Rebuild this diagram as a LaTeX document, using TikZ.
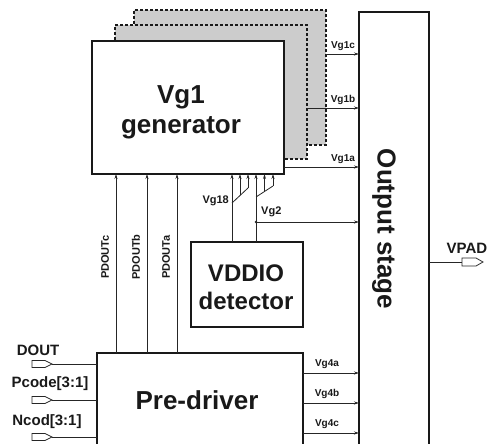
\documentclass[tikz,border=0pt]{standalone}
\usepackage{fontspec}
\setmainfont{Liberation Sans}
\usetikzlibrary{arrows.meta,calc}
\begin{document}
\begin{tikzpicture}[x=1pt,y=-1pt,
  blk/.style={draw=black!90, line width=1.8pt, fill=white, inner sep=0pt, outer sep=0pt, anchor=north west},
  layer/.style={draw=black!90, line width=1.5pt, dash pattern=on 3pt off 2pt, fill=gray!40, inner sep=0pt, outer sep=0pt, anchor=north west},
  sig/.style={draw=black!85, line width=0.8pt, -{Stealth[length=5pt,width=3pt]}},
  wire/.style={draw=black!85, line width=0.8pt},
  padstyle/.style={draw=black!85, line width=0.8pt, fill=white},
  bigtxt/.style={text=black!90, font=\bfseries\fontsize{26}{30}\selectfont, align=center, inner sep=0pt},
  dettxt/.style={text=black!90, font=\bfseries\fontsize{24}{28}\selectfont, align=center, inner sep=0pt},
  midtxt/.style={text=black!90, font=\bfseries\fontsize{15}{17}\selectfont, inner sep=0pt},
  smltxt/.style={text=black!90, font=\bfseries\fontsize{10}{12}\selectfont, inner sep=0pt},
  labtxt/.style={text=black!90, font=\bfseries\fontsize{11}{13}\selectfont, inner sep=0pt},
]
\useasboundingbox (0,0) rectangle (491,444);

% stacked Vg1 generator layers
\node[layer, minimum width=192pt, minimum height=135pt] (layc) at (134,10) {};
\node[layer, minimum width=192pt, minimum height=134pt] (layb) at (115,25) {};
\node[blk, minimum width=192pt, minimum height=133pt] (vg1) at (92,41) {};
\node[bigtxt] (vg1t) at (181,112) {Vg1\\generator};

% output stage
\node[blk, minimum width=70pt, minimum height=460pt] (out) at (359,12) {};
\node[bigtxt, rotate=-90, font=\bfseries\fontsize{26}{28}\selectfont] (outt) at (384,229) {Output stage};

% pre-driver
\node[blk, minimum width=206pt, minimum height=120pt] (pre) at (97,353) {};
\node[bigtxt] (pret) at (197,400) {Pre-driver};

% VDDIO detector
\node[blk, minimum width=112pt, minimum height=85pt] (det) at (191,242) {};
\node[dettxt] (dett) at (246,287) {VDDIO\\detector};

% Vg1 outputs
\draw[sig] (vg1.east |- 0,167) -- (out.west |- 0,167);
\node[smltxt] (l1a) at (343,159) {Vg1a};
\draw[sig] (layb.east |- 0,108) -- (out.west |- 0,108);
\node[smltxt] (l1b) at (343,100) {Vg1b};
\draw[sig] (layc.east |- 0,54) -- (out.west |- 0,54);
\node[smltxt] (l1c) at (343,46) {Vg1c};

% PDOUT lines
\foreach \x/\n/\lx in {116/c/105,147/b/136,177/a/166} {
  \draw[sig] (pre.north -| \x,0) -- (vg1.south -| \x,0);
  \node[labtxt, rotate=90] (pd\n) at (\lx,257) {PDOUT\n};
}

% Vg18 group
\coordinate (a1) at (232,203);
\coordinate (a3) at (248,188);
\coordinate (a2) at ($(a1)!0.5!(a3)$);
\draw[sig] (det.north -| a1) -- (vg1.south -| a1);
\draw[wire] (a1) -- (a3);
\draw[sig] (a2) -- (vg1.south -| a2);
\draw[sig] (a3) -- (vg1.south -| a3);
\node[labtxt, anchor=east] (l18) at (229,201) {Vg18};

% Vg2 group
\coordinate (b1) at (256,197);
\coordinate (b3) at (273,186);
\coordinate (b2) at ($(b1)!0.5!(b3)$);
\draw[sig] (det.north -| b1) -- (vg1.south -| b1);
\draw[wire] (b1) -- (b3);
\draw[sig] (b2) -- (vg1.south -| b2);
\draw[sig] (b3) -- (vg1.south -| b3);
\coordinate (v2) at (256,222);
\draw[sig] (v2) -- (out.west |- v2);
\fill[black!85] (v2) circle (1.4);
\node[labtxt, anchor=west] (l2) at (261,212) {Vg2};

% Vg4 outputs
\foreach \y/\n in {373/a,403/b,433/c} {
  \draw[sig] (pre.east |- 0,\y) -- (out.west |- 0,\y);
  \node[smltxt] (l4\n) at (327,\y-9) {Vg4\n};
}

% input pads
\foreach \y/\n in {364/d,400/p,437/n} {
  \draw[padstyle] (32,\y-3.5) -- (45,\y-3.5) -- (52,\y) -- (45,\y+3.5) -- (32,\y+3.5) -- cycle;
  \coordinate (pin\n) at (52,\y);
  \draw[wire] (pin\n) -- (pre.west |- pin\n);
}
\node[midtxt] (ldout) at (38,350) {DOUT};
\node[midtxt] (lpcode) at (50,384) {Pcode[3:1]};
\node[midtxt] (lncod) at (47,422) {Ncod[3:1]};

% VPAD
\coordinate (vp) at (462,262);
\draw[wire] (out.east |- vp) -- (vp);
\draw[padstyle] (462,258) -- (476,258) -- (483,262) -- (476,266) -- (462,266) -- cycle;
\node[midtxt] (lvpad) at (467,248) {VPAD};
\end{tikzpicture}
\end{document}
